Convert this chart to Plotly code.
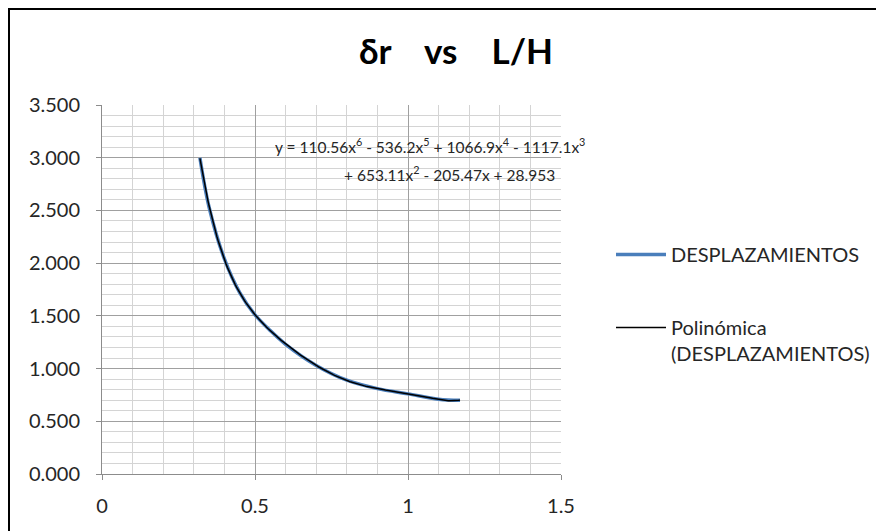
import numpy as np
import plotly.graph_objects as go

# Data
lh = [0.32, 0.35, 0.40, 0.45, 0.50, 0.55, 0.60, 0.70, 0.80, 0.90, 1.00, 1.10, 1.17]
desplazamientos = [3.00, 2.53, 2.04, 1.72, 1.51, 1.36, 1.23, 1.03, 0.89, 0.81, 0.76, 0.71, 0.70]

series_name = "DESPLAZAMIENTOS"
trend_name = "Polinómica<br>(DESPLAZAMIENTOS)"
title_text = "δr    vs    L/H"
eq_line1 = "y = 110.56x<sup>6</sup> - 536.2x<sup>5</sup> + 1066.9x<sup>4</sup> - 1117.1x<sup>3</sup>"
eq_line2 = "+ 653.11x<sup>2</sup> - 205.47x + 28.953"

x_ticks = [0, 0.5, 1, 1.5]
x_tick_labels = ["0", "0.5", "1", "1.5"]

# polynomial trendline (order 6) fitted to the data
coef = np.polyfit(lh, desplazamientos, 6)
xt = np.linspace(min(lh), max(lh), 200)
yt = np.polyval(coef, xt)

FONT = "Lato, Calibri, Carlito, 'Liberation Sans', sans-serif"
TXT = "#262626"

fig = go.Figure()
fig.add_trace(go.Scatter(x=lh, y=desplazamientos, mode="lines", name=series_name,
                         line=dict(color="#4a7ebb", width=3.5, shape="spline"),
                         legendgroup="a"))
fig.add_trace(go.Scatter(x=xt, y=yt, mode="lines", name=trend_name,
                         line=dict(color="#000000", width=1.5),
                         legendgroup="b"))

grid_minor = "#d4d4d4"
grid_major = "#a0a0a0"

# page is offset by the 8px body margin: plot area spans page px 102..561 x 105..474
fig.update_layout(
    width=884, height=531,
    margin=dict(l=94, r=331, t=97, b=65),
    paper_bgcolor="white", plot_bgcolor="white",
    font=dict(family=FONT, size=20, color=TXT),
    showlegend=True,
    legend=dict(x=(671 - 60 - 102) / 459, y=(474 - 235) / 369, xanchor="left", yanchor="top",
                font=dict(size=20, color=TXT), itemwidth=50,
                tracegroupgap=44, traceorder="grouped", valign="top",
                bgcolor="rgba(0,0,0,0)"),
    xaxis=dict(range=[0, 1.5], tickvals=x_ticks, ticktext=x_tick_labels,
               showgrid=True, gridcolor=grid_major, gridwidth=1,
               minor=dict(dtick=0.1, showgrid=True, gridcolor=grid_minor, gridwidth=1),
               showline=True, linecolor="#8c8c8c", linewidth=1,
               ticks="outside", ticklen=5, tickcolor="#8c8c8c",
               ticklabelstandoff=9, zeroline=False,
               tickfont=dict(size=20, color=TXT)),
    yaxis=dict(range=[0, 3.5], dtick=0.5, tickformat=".3f",
               showgrid=True, gridcolor=grid_major, gridwidth=1,
               minor=dict(dtick=0.1, showgrid=True, gridcolor=grid_minor, gridwidth=1),
               showline=True, linecolor="#8c8c8c", linewidth=1,
               ticks="outside", ticklen=5, tickcolor="#8c8c8c",
               ticklabelstandoff=12,
               zeroline=False, tickfont=dict(size=20, color=TXT)),
)

fig.add_annotation(text="<b>" + title_text + "</b>", xref="paper", yref="paper",
                   x=(456 - 102) / 459, y=(474 - 50) / 369, showarrow=False,
                   xanchor="center", yanchor="middle",
                   font=dict(size=35, color="#000000", family=FONT))
fig.add_annotation(text=eq_line1, xref="paper", yref="paper",
                   x=(273 - 102) / 459, y=(474 - 145) / 369, xanchor="left", yanchor="middle",
                   showarrow=False, font=dict(size=15.5, color=TXT))
fig.add_annotation(text=eq_line2, xref="paper", yref="paper",
                   x=(342 - 102) / 459, y=(474 - 173) / 369, xanchor="left", yanchor="middle",
                   showarrow=False, font=dict(size=15.5, color=TXT))

# outer chart border (left edge sits just inside the page's body margin)
fig.add_shape(type="rect", xref="paper", yref="paper",
              x0=(9 - 102) / 459, x1=(900 - 102) / 459,
              y0=(474 - 560) / 369, y1=(474 - 9) / 369,
              line=dict(color="#000000", width=2), fillcolor="rgba(0,0,0,0)", layer="below")

fig.write_html("out.html")
